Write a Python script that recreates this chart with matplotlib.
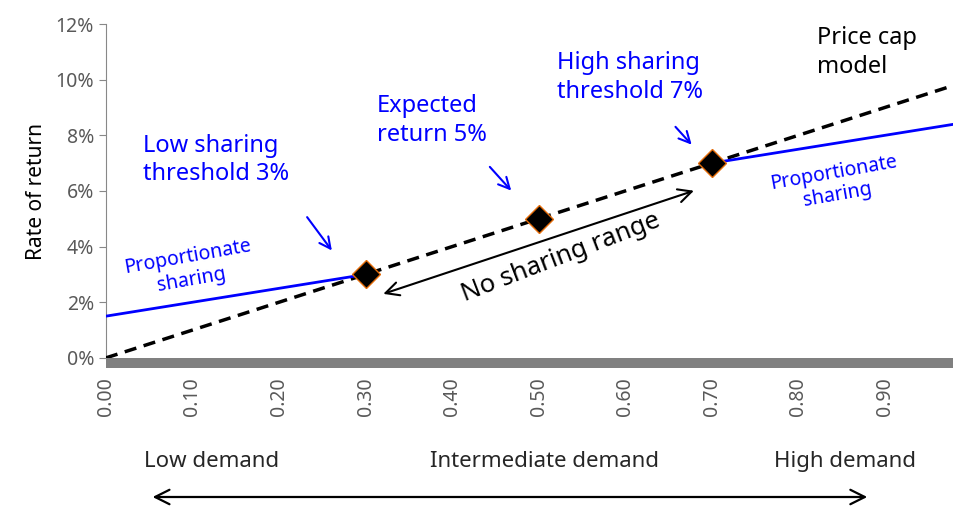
import numpy as np
import matplotlib.pyplot as plt
from matplotlib.patches import Rectangle, FancyArrowPatch
from matplotlib.ticker import PercentFormatter

plt.rcParams['font.family'] = ['Noto Sans', 'DejaVu Sans']

# data
cap_x = [0.0, 0.98]
cap_y = [0.0, 0.098]
low_x = [0.0, 0.30]
low_y = [0.015, 0.030]
high_x = [0.70, 0.98]
high_y = [0.070, 0.084]
point_x = [0.30, 0.50, 0.70]
point_y = [0.03, 0.05, 0.07]
x_ticks = [0.0, 0.1, 0.2, 0.3, 0.4, 0.5, 0.6, 0.7, 0.8, 0.9]
y_ticks = [0.0, 0.02, 0.04, 0.06, 0.08, 0.10, 0.12]

fig = plt.figure(figsize=(9.54, 5.12), dpi=100)
ax = fig.add_axes([0.111, 0.301, 0.889, 0.652])

ax.plot(cap_x, cap_y, color='black', lw=2.5, ls=(0, (3.5, 2.2)), zorder=3)
ax.plot(low_x, low_y, color='#0000ff', lw=2, zorder=4)
ax.plot(high_x, high_y, color='#0000ff', lw=2, zorder=4)
ax.plot(point_x, point_y, ls='none', marker='D', ms=14, mfc='black',
        mec='#e46c0a', mew=1, zorder=5)

ax.set_xlim(0, 0.98)
ax.set_ylim(0, 0.12)
ax.set_xticks(x_ticks)
ax.set_xticklabels(['%.2f' % v for v in x_ticks], rotation=90)
ax.set_yticks(y_ticks)
ax.yaxis.set_major_formatter(PercentFormatter(1.0, decimals=0))
ax.tick_params(axis='x', length=0, pad=14, labelsize=14, labelcolor='#595959')
ax.tick_params(axis='y', length=5, color='#888888', labelsize=14,
               labelcolor='#595959')
for s in ['top', 'right', 'bottom']:
    ax.spines[s].set_visible(False)
ax.spines['left'].set_color('#888888')
ax.add_patch(Rectangle((0, -0.03), 1, 0.03, transform=ax.transAxes,
                       color='#808080', clip_on=False, lw=0))
ax.set_ylabel('Rate of return', fontsize=15, labelpad=6)

blue = '#0000ff'
tfs = 17
ax.text(0.043, 0.0805, 'Low sharing\nthreshold 3%', color=blue, fontsize=tfs,
        va='top', ha='left', linespacing=1.25)
ax.text(0.313, 0.0948, 'Expected\nreturn 5%', color=blue, fontsize=tfs,
        va='top', ha='left', linespacing=1.25)
ax.text(0.521, 0.1102, 'High sharing\nthreshold 7%', color=blue, fontsize=tfs,
        va='top', ha='left', linespacing=1.25)
ax.text(0.8215, 0.1192, 'Price cap\nmodel', color='black', fontsize=tfs,
        va='top', ha='left', linespacing=1.25)
ax.text(0.097, 0.0322, 'Proportionate\nsharing', color=blue, fontsize=14,
        va='center', ha='center', rotation=10, linespacing=1.2)
ax.text(0.843, 0.0625, 'Proportionate\nsharing', color=blue, fontsize=14,
        va='center', ha='center', rotation=10, linespacing=1.2)
ax.text(0.526, 0.0362, 'No sharing range', color='black', fontsize=18.5,
        va='center', ha='center', rotation=21)

arw = dict(arrowstyle='->', color=blue, lw=1.5, mutation_scale=20)
ax.annotate('', xy=(0.263, 0.0378), xytext=(0.2306, 0.0514), arrowprops=arw)
ax.annotate('', xy=(0.4705, 0.0594), xytext=(0.4415, 0.0694), arrowprops=arw)
ax.annotate('', xy=(0.679, 0.0759), xytext=(0.656, 0.0838), arrowprops=arw)
ax.annotate('', xy=(0.6825, 0.0604), xytext=(0.3175, 0.0227),
            arrowprops=dict(arrowstyle='<->', color='black', lw=1.5,
                            mutation_scale=24))

fig.text(0.222, 0.0977, 'Low demand', fontsize=16, ha='center', va='center',
         color='#262626')
fig.text(0.571, 0.0977, 'Intermediate demand', fontsize=16, ha='center',
         va='center', color='#262626')
fig.text(0.886, 0.0977, 'High demand', fontsize=16, ha='center', va='center',
         color='#262626')
fig.patches.append(FancyArrowPatch(
    (0.157, 0.0293), (0.912, 0.0293), transform=fig.transFigure,
    arrowstyle='<->', color='black', lw=1.6, mutation_scale=26))

fig.savefig('out.png', dpi=100)
